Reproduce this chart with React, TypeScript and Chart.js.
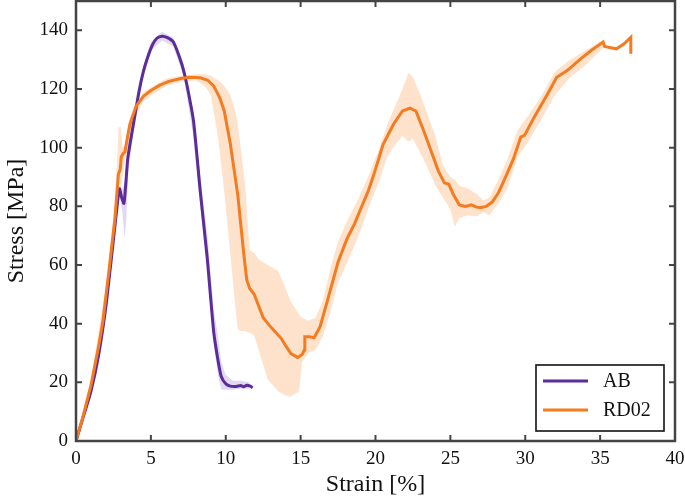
import React, { useEffect, useRef } from 'react';
import { Chart, registerables } from 'chart.js';

Chart.register(...registerables);

const xTicks = [0, 5, 10, 15, 20, 25, 30, 35, 40];
const yTicks = [0, 20, 40, 60, 80, 100, 120, 140];
const seriesNames = ['AB', 'RD02'];
const xTitle = 'Strain [%]';
const yTitle = 'Stress [MPa]';

// AB mean curve
const abStrain = [0, 0.5, 1.0, 1.5, 2.0, 2.4, 2.7, 2.9, 3.05, 3.2, 3.3, 3.45, 3.6, 3.9, 4.2, 4.5, 4.8, 5.1, 5.4, 5.75, 6.1, 6.5, 6.9, 7.2, 7.5, 7.85, 8.3, 8.75, 9.2, 9.5, 9.7, 10.0, 10.3, 10.7, 11.0, 11.2, 11.4, 11.6, 11.8];
const abStress = [0, 8.5, 17, 29, 46, 64, 78, 86, 83, 81, 86, 96, 101, 110, 119, 126, 131, 135, 137.3, 138, 137.5, 136, 131, 126, 119, 109, 85, 63, 37, 27, 22, 19.5, 18.7, 18.6, 18.9, 18.5, 19, 18.8, 18.2];
// AB scatter band
const abBandStrain = [0, 1, 2, 2.7, 2.9, 3.1, 3.25, 3.35, 3.5, 3.8, 4.5, 5.0, 5.75, 6.5, 7.2, 7.8, 8.3, 8.8, 9.2, 9.5, 9.7, 10.0, 10.5, 11.0, 11.6];
const abBandUpper = [0.5, 18, 48, 80, 87, 86, 88, 94, 104, 110, 128, 136, 139.5, 137.5, 128.5, 113, 90, 69, 45, 35, 27, 22.5, 20.5, 20.5, 20];
const abBandLower = [0, 15, 44, 76, 84, 78, 69, 75, 92, 104, 124, 133, 136.5, 134.5, 124, 105, 80, 57, 33, 22, 17.5, 17.5, 17.5, 17.8, 17.8];

// RD02 mean curve
const rdStrain = [0, 0.5, 1.0, 1.5, 1.8, 2.2, 2.6, 2.83, 2.95, 3.02, 3.15, 3.27, 3.45, 3.6, 4.0, 4.5, 5.0, 5.6, 6.2, 7.0, 7.6, 8.3, 8.8, 9.2, 9.6, 9.9, 10.3, 10.8, 11.2, 11.4, 11.6, 11.9, 12.2, 12.5, 12.9, 13.25, 13.7, 14.0, 14.35, 14.8, 15.1, 15.25, 15.28, 15.6, 15.9, 16.3, 16.8, 17.5, 18.1, 18.6, 19.0, 19.5, 19.9, 20.5, 21.2, 21.8, 22.3, 22.7, 23.2, 23.7, 24.2, 24.6, 24.9, 25.2, 25.6, 26.0, 26.4, 26.7, 27.0, 27.4, 27.8, 28.2, 28.6, 29.2, 29.7, 29.95, 30.6, 31.5, 32.1, 32.8, 33.7, 34.4, 35.2, 35.3, 35.8, 36.1, 36.6, 37.05, 37.05];
const rdStress = [0, 9, 19, 32, 41, 58, 76, 91, 92.5, 96.8, 98, 98.5, 104, 108, 114, 117.5, 119.5, 121.3, 122.6, 123.6, 124, 123.8, 123, 121, 117, 112.5, 101.5, 84, 64, 55, 52, 50, 46, 42, 39.5, 37.5, 35, 32.5, 29.8, 28.5, 29.5, 31, 35.5, 35.5, 35.2, 39, 48, 61, 69, 74, 79, 85, 91, 101, 108, 112.5, 113.5, 112.5, 106, 99, 92, 88, 87.5, 84, 80.5, 80, 80.5, 79.8, 79.5, 80, 81.5, 84.5, 89, 96, 103.6, 104.2, 110.4, 118.4, 124, 126.3, 130.3, 133.1, 136, 134.5, 134, 133.7, 135.4, 137.6, 132];
// RD02 scatter band
const rdBandStrain = [0, 1, 2, 2.6, 2.85, 3.0, 3.1, 3.3, 3.6, 4.5, 6, 7, 8, 8.6, 9.0, 9.5, 9.9, 10.3, 10.6, 10.8, 11.0, 11.3, 11.5, 11.6, 11.9, 12.2, 12.8, 13.5, 14.0, 14.3, 14.9, 15.1, 15.5, 16.0, 16.5, 17, 17.5, 18.2, 18.8, 19.5, 20.2, 20.8, 21.3, 21.8, 22.2, 22.5, 23.0, 23.5, 24.0, 24.5, 25.0, 25.3, 25.6, 26.2, 26.8, 27.2, 27.6, 28.2, 28.8, 29.5, 30.2, 31, 32, 33, 34, 34.8, 35.3];
const rdBandUpper = [1, 21, 53, 80, 107, 107, 100, 101, 110, 119, 123.5, 124.5, 125, 125, 124.5, 123, 121, 118, 113, 108, 100, 87, 72, 65, 64, 62, 60, 58, 52, 48, 43, 42, 41, 42, 48, 59, 68, 76, 82, 90, 99, 108, 114, 120, 125.5, 124, 118, 111, 104, 94, 90, 89, 87, 86, 84, 82, 83, 89, 96, 106, 111, 117, 126, 130, 133, 135.5, 137];
const rdBandLower = [0, 17, 47, 72, 88, 86, 90, 96, 106, 116, 121, 122.5, 123, 121, 118, 103, 85, 64, 48, 38, 37.5, 37.5, 37, 37, 36, 31, 21, 17, 15.5, 15, 17, 27, 30, 31, 36, 44, 54, 62, 69, 79, 88, 97, 101, 104, 102, 103, 98, 93, 87, 83, 79, 73, 76, 77, 76.5, 78, 77, 81, 86, 97, 102, 109, 118, 124, 128, 132, 134.5];

const abColor = '#5b2c9a';
const rdColor = '#f47b20';
const abFill = 'rgba(180, 160, 215, 0.4)';
const rdFill = 'rgba(253, 190, 140, 0.45)';
const serif = "'Liberation Serif', 'Times New Roman', serif";

const pts = (xs: number[], ys: number[]) => xs.map((x, i) => ({ x, y: ys[i] }));

const framePlugin = {
  id: 'frameTicks',
  afterDatasetsDraw(chart: any) {
    const { ctx, chartArea: a, scales } = chart;
    const x = scales.x;
    const y = scales.y;
    ctx.save();
    ctx.strokeStyle = '#444';
    ctx.lineWidth = 2;
    const len = 6;
    ctx.beginPath();
    xTicks.forEach((v) => {
      const px = x.getPixelForValue(v);
      ctx.moveTo(px, a.bottom);
      ctx.lineTo(px, a.bottom - len);
      ctx.moveTo(px, a.top);
      ctx.lineTo(px, a.top + len);
    });
    yTicks.forEach((v) => {
      const py = y.getPixelForValue(v);
      ctx.moveTo(a.left, py);
      ctx.lineTo(a.left + len, py);
      ctx.moveTo(a.right, py);
      ctx.lineTo(a.right - len, py);
    });
    ctx.stroke();
    ctx.lineWidth = 2.5;
    ctx.strokeRect(a.left, a.top, a.right - a.left, a.bottom - a.top);
    ctx.restore();
  },
  afterDraw(chart: any) {
    const { ctx, chartArea: a } = chart;
    const w = 128;
    const h = 66;
    const bx = a.right - 11 - w;
    const by = a.bottom - 10 - h;
    ctx.save();
    ctx.fillStyle = '#fff';
    ctx.fillRect(bx, by, w, h);
    ctx.strokeStyle = '#111';
    ctx.lineWidth = 1.6;
    ctx.strokeRect(bx, by, w, h);
    const colors = [abColor, rdColor];
    seriesNames.forEach((name, i) => {
      const cy = by + 16 + i * 29;
      ctx.strokeStyle = colors[i];
      ctx.lineWidth = 3;
      ctx.beginPath();
      ctx.moveTo(bx + 7, cy);
      ctx.lineTo(bx + 52, cy);
      ctx.stroke();
      ctx.fillStyle = '#111';
      ctx.font = `20px ${serif}`;
      ctx.textBaseline = 'middle';
      ctx.textAlign = 'left';
      ctx.fillText(name, bx + 67, cy + 1);
    });
    ctx.restore();
  },
};

export default function App() {
  const ref = useRef<HTMLCanvasElement | null>(null);
  useEffect(() => {
    document.body.style.margin = '0';
    if (!ref.current) return;
    const chart = new Chart(ref.current, {
      type: 'line',
      data: {
        datasets: [
          {
            label: 'RD02',
            data: pts(rdStrain, rdStress),
            borderColor: rdColor,
            borderWidth: 3,
            pointRadius: 0,
            fill: false,
            tension: 0,
            order: 0,
          },
          {
            label: 'AB',
            data: pts(abStrain, abStress),
            borderColor: abColor,
            borderWidth: 3,
            pointRadius: 0,
            fill: false,
            tension: 0.2,
            order: 1,
          },
          {
            label: 'RD02 band upper',
            data: pts(rdBandStrain, rdBandUpper),
            borderWidth: 0,
            borderColor: 'rgba(0,0,0,0)',
            backgroundColor: rdFill,
            pointRadius: 0,
            fill: '+1',
            order: 2,
          },
          {
            label: 'RD02 band lower',
            data: pts(rdBandStrain, rdBandLower),
            borderWidth: 0,
            borderColor: 'rgba(0,0,0,0)',
            pointRadius: 0,
            fill: false,
            order: 3,
          },
          {
            label: 'AB band upper',
            data: pts(abBandStrain, abBandUpper),
            borderWidth: 0,
            borderColor: 'rgba(0,0,0,0)',
            backgroundColor: abFill,
            pointRadius: 0,
            fill: '+1',
            order: 4,
          },
          {
            label: 'AB band lower',
            data: pts(abBandStrain, abBandLower),
            borderWidth: 0,
            borderColor: 'rgba(0,0,0,0)',
            pointRadius: 0,
            fill: false,
            order: 5,
          },
        ],
      },
      options: {
        responsive: false,
        animation: false,
        layout: { padding: { top: 1, right: 10, left: 0, bottom: 0 } },
        plugins: { legend: { display: false }, tooltip: { enabled: false } },
        scales: {
          x: {
            type: 'linear',
            min: 0,
            max: 40,
            afterBuildTicks: (s: any) => {
              s.ticks = xTicks.map((v) => ({ value: v }));
            },
            afterFit: (s: any) => {
              s.height = 60;
              s.paddingLeft = 0;
              s.paddingRight = 0;
            },
            grid: { display: false, drawTicks: false },
            border: { display: false },
            ticks: { color: '#111', padding: 7, maxRotation: 0, font: { family: serif, size: 19 } },
            title: { display: true, text: xTitle, color: '#111', padding: { top: 0, bottom: 2 }, font: { family: serif, size: 24 } },
          },
          y: {
            type: 'linear',
            min: 0,
            max: 150,
            afterBuildTicks: (s: any) => {
              s.ticks = yTicks.map((v) => ({ value: v }));
            },
            afterFit: (s: any) => {
              s.width = 76;
              s.paddingTop = 0;
              s.paddingBottom = 0;
            },
            grid: { display: false, drawTicks: false },
            border: { display: false },
            ticks: { color: '#111', padding: 8, font: { family: serif, size: 19 } },
            title: { display: true, text: yTitle, color: '#111', padding: { top: 2, bottom: 0 }, font: { family: serif, size: 24 } },
          },
        },
      },
      plugins: [framePlugin],
    });
    return () => chart.destroy();
  }, []);
  return <canvas ref={ref} width={685} height={501} style={{ display: 'block' }} />;
}
